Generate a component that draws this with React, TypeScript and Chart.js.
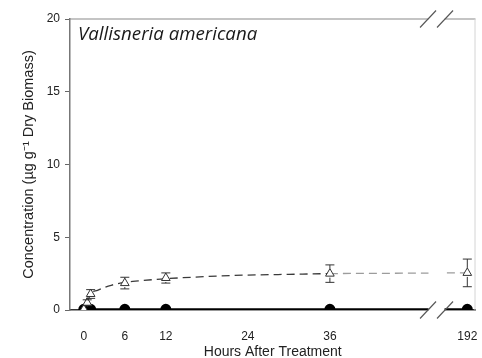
import React, { useEffect, useRef } from "react";
import { Chart, registerables } from "chart.js";

Chart.register(...registerables);

// ---- data ----
const HOURS = [0, 0.5, 1, 6, 12, 36, 192];
const TRIANGLE_MEAN = [0.05, 0.5, 1.1, 1.85, 2.2, 2.5, 2.55];
const TRIANGLE_ERR = [0, 0.2, 0.3, 0.4, 0.35, 0.6, 0.95];
const CIRCLE_MEAN = [0.05, 0.05, 0.05, 0.05, 0.05, 0.05, 0.05];
const FIT_HOURS = [0.5, 1, 2, 3, 4, 6, 8, 12, 18, 24, 30, 36, 44, 50, 192];
const FIT_VALUES = [0.5, 1.1, 1.35, 1.55, 1.7, 1.9, 2.0, 2.15, 2.3, 2.4, 2.45, 2.5, 2.52, 2.54, 2.55];
const X_TICK_HOURS = [0, 6, 12, 24, 36, 192];
const X_TICK_LABELS = ["0", "6", "12", "24", "36", "192"];
const Y_TICKS = [0, 5, 10, 15, 20];
const TITLE = "Vallisneria americana";
const X_TITLE = "Hours After Treatment";
const Y_TITLE = "Concentration (\u00B5g g\u207B\u00B9 Dry Biomass)";

// broken x axis: hours beyond the break are drawn near the right edge
const BREAK_AT = 51.6;
const toAxis = (h: number) => (h >= 100 ? 56.1 + (h - 192) * 0.01 : h);

const FONT = "'Liberation Sans', Arial, Helvetica, sans-serif";

const errorBarPlugin = {
  id: "errorBars",
  afterDatasetsDraw(chart: any) {
    const { ctx } = chart;
    const xs = chart.scales.x;
    const ys = chart.scales.y;
    ctx.save();
    ctx.strokeStyle = "#333";
    ctx.lineWidth = 1;
    HOURS.forEach((h, i) => {
      const e = TRIANGLE_ERR[i];
      if (!e) return;
      const x = xs.getPixelForValue(toAxis(h));
      const y1 = ys.getPixelForValue(TRIANGLE_MEAN[i] + e);
      const y2 = ys.getPixelForValue(TRIANGLE_MEAN[i] - e);
      const yc = ys.getPixelForValue(TRIANGLE_MEAN[i]);
      ctx.beginPath();
      ctx.moveTo(x, y1);
      ctx.lineTo(x, yc - 5);
      ctx.moveTo(x, yc + 4);
      ctx.lineTo(x, y2);
      ctx.moveTo(x - 4.5, y1);
      ctx.lineTo(x + 4.5, y1);
      ctx.moveTo(x - 4.5, y2);
      ctx.lineTo(x + 4.5, y2);
      ctx.stroke();
    });
    ctx.restore();
  },
};

const framePlugin = {
  id: "frame",
  afterDraw(chart: any) {
    const { ctx, chartArea } = chart;
    const { left, right, top, bottom } = chartArea;
    const bx = chart.scales.x.getPixelForValue(BREAK_AT);
    const c1 = bx - 8.5;
    const c2 = bx + 8.5;
    ctx.save();
    // top border and right border
    ctx.strokeStyle = "#8a8a8a";
    ctx.lineWidth = 1.2;
    ctx.beginPath();
    ctx.moveTo(left, top);
    ctx.lineTo(right, top);
    ctx.stroke();
    ctx.strokeStyle = "#d4d4d4";
    ctx.lineWidth = 1;
    ctx.beginPath();
    ctx.moveTo(right - 0.5, top);
    ctx.lineTo(right - 0.5, bottom);
    ctx.stroke();
    // axis break gap
    ctx.fillStyle = "#ffffff";
    ctx.fillRect(c1 + 0.5, top - 10, c2 - c1 - 1, bottom - top + 20);
    // slashes
    ctx.strokeStyle = "#555";
    ctx.lineWidth = 1.1;
    [top, bottom].forEach((y) => {
      [c1, c2].forEach((c) => {
        ctx.beginPath();
        ctx.moveTo(c - 8, y + 8.5);
        ctx.lineTo(c + 8, y - 8.5);
        ctx.stroke();
      });
    });
    // species title
    ctx.fillStyle = "#1a1a1a";
    ctx.font = "italic 18.7px 'Open Sans', sans-serif";
    ctx.textBaseline = "alphabetic";
    ctx.textAlign = "left";
    ctx.fillText(TITLE, left + 8, top + 21);
    ctx.restore();
  },
};

export default function App() {
  const ref = useRef<HTMLCanvasElement | null>(null);

  useEffect(() => {
    document.body.style.margin = "0";
    const canvas = ref.current;
    if (!canvas) return;
    const chart = new Chart(canvas, {
      type: "line",
      data: {
        datasets: [
          {
            label: "fit",
            data: FIT_HOURS.map((h, i) => ({ x: toAxis(h), y: FIT_VALUES[i] })),
            borderColor: "#3a3a3a",
            borderWidth: 1.3,
            borderDash: [8, 5],
            pointRadius: 0,
            cubicInterpolationMode: "monotone",
            segment: {
              borderColor: (c: any) => (c.p0.parsed.x >= 36 ? "#9c9c9c" : "#3a3a3a"),
            },
            order: 3,
          },
          {
            label: "circles",
            data: HOURS.map((h, i) => ({ x: toAxis(h), y: CIRCLE_MEAN[i] })),
            borderColor: "#000",
            borderWidth: 2,
            pointRadius: 4.5,
            pointBackgroundColor: "#000",
            pointBorderColor: "#000",
            tension: 0,
            order: 2,
          },
          {
            label: "triangles",
            data: HOURS.map((h, i) => ({ x: toAxis(h), y: TRIANGLE_MEAN[i] })),
            showLine: false,
            pointStyle: "triangle",
            pointRadius: 5,
            pointBorderWidth: 1,
            pointBorderColor: "#333",
            pointBackgroundColor: "#fff",
            order: 1,
          },
        ],
      },
      options: {
        responsive: false,
        animation: false,
        events: [],
        layout: { padding: { top: 19, right: 1, left: 0, bottom: 0 } },
        plugins: { legend: { display: false }, tooltip: { enabled: false } },
        scales: {
          x: {
            type: "linear",
            min: -2.02,
            max: 57.3,
            afterBuildTicks: (s: any) => {
              s.ticks = X_TICK_HOURS.map((h) => ({ value: toAxis(h) }));
            },
            afterFit: (s: any) => {
              s.height = 48;
              s.paddingLeft = 0;
              s.paddingRight = 0;
            },
            grid: { display: false },
            border: { display: true, color: "#333", width: 1.5 },
            ticks: {
              autoSkip: false,
              maxRotation: 0,
              padding: 11,
              color: "#222",
              font: { family: FONT, size: 12 },
              callback: (_v: any, i: number) => X_TICK_LABELS[i],
            },
            title: {
              display: true,
              text: X_TITLE,
              color: "#222",
              font: { family: FONT, size: 14, lineHeight: 1 },
              padding: { top: 0, bottom: -1 },
            },
          },
          y: {
            type: "linear",
            min: 0,
            max: 20,
            afterBuildTicks: (s: any) => {
              s.ticks = Y_TICKS.map((v) => ({ value: v }));
            },
            afterFit: (s: any) => {
              s.width = 70;
            },
            grid: {
              display: true,
              drawOnChartArea: false,
              drawTicks: true,
              tickLength: 5,
              color: "#666",
            },
            border: { display: true, color: "#777", width: 1.5 },
            ticks: {
              padding: 5,
              color: "#222",
              font: { family: FONT, size: 12 },
            },
            title: {
              display: true,
              text: Y_TITLE,
              color: "#222",
              font: { family: FONT, size: 14.5, lineHeight: 1 },
              padding: { top: 21.5, bottom: 0 },
            },
          },
        },
      },
      plugins: [errorBarPlugin, framePlugin],
    } as any);
    return () => chart.destroy();
  }, []);

  return (
    <div style={{ width: 482, height: 358 }}>
      <canvas ref={ref} width={482} height={358} style={{ display: "block" }} />
    </div>
  );
}
